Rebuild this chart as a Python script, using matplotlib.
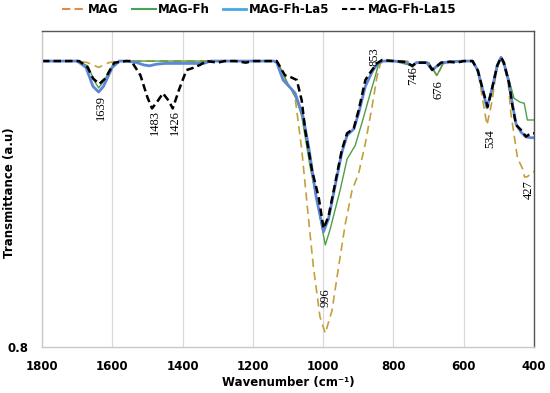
import matplotlib
matplotlib.use("Agg")
import matplotlib.pyplot as plt
from matplotlib.lines import Line2D

# ---------------- data ----------------
series_names = ["MAG", "MAG-Fh", "MAG-Fh-La5", "MAG-Fh-La15"]

mag_wn = [1800, 1700, 1670, 1639, 1610, 1580, 1200, 1132, 1104, 1090, 1080, 1061, 1047, 1028,
          1009, 994, 975, 956, 937, 918, 899, 880, 861, 847, 837, 825, 800, 760, 746, 735,
          700, 676, 660, 640, 600, 575, 560, 545, 534, 520, 505, 494, 486, 475, 466, 447,
          433, 427, 419, 404, 400]
mag_t = [0.981, 0.981, 0.980, 0.977, 0.980, 0.981, 0.981, 0.981, 0.968, 0.963, 0.958, 0.925,
         0.893, 0.851, 0.819, 0.8087, 0.823, 0.851, 0.878, 0.899, 0.910, 0.929, 0.952, 0.971,
         0.9796, 0.981, 0.981, 0.981, 0.977, 0.980, 0.980, 0.9715, 0.979, 0.981, 0.981, 0.981,
         0.975, 0.955, 0.9405, 0.955, 0.978, 0.983, 0.978, 0.971, 0.948, 0.9195, 0.913, 0.9076,
         0.9078, 0.911, 0.911]

fh_wn = [1800, 1700, 1670, 1650, 1639, 1625, 1600, 1580, 1140, 1130, 1115, 1104, 1090, 1075,
         1061, 1037, 1013, 994, 980, 951, 932, 909, 889, 866, 851, 842, 830, 800, 746, 735,
         700, 676, 660, 640, 575, 560, 534, 515, 500, 494, 485, 471, 457, 440, 428, 419, 400]
fh_t = [0.981, 0.981, 0.978, 0.968, 0.964, 0.968, 0.978, 0.981, 0.981, 0.980, 0.974, 0.968,
        0.963, 0.956, 0.946, 0.914, 0.887, 0.8646, 0.8747, 0.900, 0.919, 0.9275, 0.9424,
        0.9606, 0.972, 0.9796, 0.981, 0.981, 0.978, 0.980, 0.980, 0.972, 0.979, 0.981, 0.981,
        0.975, 0.951, 0.968, 0.980, 0.983, 0.979, 0.969, 0.9574, 0.955, 0.9543, 0.9437, 0.9437]

la5_wn = [1800, 1700, 1675, 1655, 1639, 1625, 1600, 1580, 1560, 1530, 1510, 1494, 1475, 1450,
          1340, 1320, 1140, 1132, 1114, 1080, 1057, 1040, 1020, 999, 985, 966, 947, 932, 913,
          899, 880, 861, 847, 832, 800, 770, 746, 735, 705, 690, 675, 660, 640, 600, 575, 560,
          545, 534, 520, 505, 494, 486, 471, 461, 451, 437, 423, 410, 400]
la5_t = [0.981, 0.981, 0.977, 0.965, 0.9614, 0.965, 0.977, 0.981, 0.981, 0.980, 0.9785, 0.978,
         0.979, 0.9795, 0.9795, 0.981, 0.981, 0.980, 0.969, 0.9608, 0.9457, 0.925, 0.895, 0.873,
         0.881, 0.902, 0.923, 0.934, 0.938, 0.948, 0.965, 0.974, 0.979, 0.981, 0.981, 0.9805,
         0.978, 0.980, 0.980, 0.9753, 0.978, 0.980, 0.9805, 0.981, 0.981, 0.975, 0.962, 0.9514,
         0.963, 0.978, 0.9834, 0.980, 0.967, 0.953, 0.941, 0.936, 0.933, 0.9325, 0.9325]

la15_wn = [1800, 1694, 1670, 1655, 1637, 1620, 1600, 1594, 1560, 1546, 1520, 1500, 1487, 1470,
           1456, 1440, 1428, 1410, 1389, 1371, 1351, 1332, 1300, 1280, 1250, 1220, 1200, 1140,
           1132, 1109, 1094, 1075, 1061, 1051, 1032, 1013, 999, 985, 966, 947, 932, 913, 899,
           880, 871, 861, 847, 832, 800, 770, 755, 746, 735, 710, 700, 690, 680, 665, 640, 620,
           600, 575, 560, 545, 532, 520, 505, 494, 486, 471, 461, 451, 437, 423, 409, 400]
la15_t = [0.981, 0.981, 0.977, 0.970, 0.9665, 0.970, 0.978, 0.980, 0.981, 0.981, 0.972, 0.958,
          0.951, 0.956, 0.9606, 0.956, 0.951, 0.963, 0.9753, 0.9766, 0.9785, 0.981, 0.980,
          0.981, 0.981, 0.980, 0.981, 0.981, 0.981, 0.972, 0.971, 0.969, 0.956, 0.937, 0.912,
          0.895, 0.8751, 0.8825, 0.9036, 0.9247, 0.9353, 0.9384, 0.950, 0.969, 0.9722, 0.9753,
          0.9796, 0.9817, 0.981, 0.9805, 0.979, 0.978, 0.980, 0.980, 0.979, 0.9755, 0.977,
          0.980, 0.9805, 0.980, 0.981, 0.981, 0.975, 0.962, 0.952, 0.963, 0.978, 0.9834, 0.980,
          0.9669, 0.9521, 0.9405, 0.9374, 0.9332, 0.9353, 0.9353]

peak_labels = ["1639", "1483", "1426", "996", "853", "746", "676", "534", "427"]
peak_x = [1632, 1480, 1421, 994, 854, 744, 671, 526, 414]
peak_y = [0.9513, 0.9424, 0.9424, 0.831, 0.9836, 0.972, 0.9627, 0.9317, 0.8994]

x_ticks = [1800, 1600, 1400, 1200, 1000, 800, 600, 400]

# ---------------- plot ----------------
fig = plt.figure(figsize=(5.5, 3.93), dpi=100)
ax = fig.add_axes([0.0764, 0.117, 0.8946, 0.804])

c_mag = "#C4A03C"
c_fh = "#4E9E48"
c_la5 = "#5E86D6"
c_la15 = "#000000"

ax.plot(mag_wn, mag_t, color=c_mag, lw=1.2, ls=(0, (5, 3)))
ax.plot(fh_wn, fh_t, color=c_fh, lw=1.0)
ax.plot(la5_wn, la5_t, color=c_la5, lw=2.0)
ax.plot(la15_wn, la15_t, color=c_la15, lw=1.8, ls=(0, (3, 1.6)))

for lab, xx, yy in zip(peak_labels, peak_x, peak_y):
    ax.text(xx, yy, lab, rotation=90, ha="center", va="center",
            family="Liberation Serif", fontsize=9, color="black")

ax.set_xlim(1800, 400)
ax.set_ylim(0.8, 1.0)
ax.set_xticks(x_ticks)
ax.set_yticks([0.8])
ax.set_yticklabels(["0.8"])
ax.tick_params(axis="x", length=0, labelsize=8.5, pad=9)
ax.tick_params(axis="y", length=0, labelsize=8.5, pad=10)
for lbl in ax.get_xticklabels() + ax.get_yticklabels():
    lbl.set_fontweight("bold")
ax.grid(axis="x", color="#d9d9d9", lw=0.9)
ax.set_axisbelow(True)

ax.spines["left"].set_color("#c8c8c8")
ax.spines["bottom"].set_color("#c8c8c8")
ax.spines["top"].set_color("#555555")
ax.spines["right"].set_color("#555555")
for s in ax.spines.values():
    s.set_linewidth(1.0)

ax.set_xlabel("Wavenumber (cm⁻¹)", fontsize=8.5, fontweight="bold")
ax.set_ylabel("Transmittance (a.u)", fontsize=8.5, fontweight="bold")
ax.xaxis.set_label_coords(0.5, -0.093)
ax.yaxis.set_label_coords(-0.052, 0.49)

handles = [
    Line2D([], [], color="#E58A45", lw=1.5, ls=(0, (4, 2))),
    Line2D([], [], color="#3EA85A", lw=1.5),
    Line2D([], [], color="#46A8E2", lw=2.0),
    Line2D([], [], color="black", lw=1.5, ls=(0, (2.5, 1.5))),
]
leg = fig.legend(handles, series_names, loc="center", bbox_to_anchor=(0.472, 0.975), ncol=4,
                 frameon=False, prop={"weight": "bold", "size": 8.5}, handlelength=2.0,
                 handletextpad=0.2, columnspacing=1.1)

fig.savefig("out.png", dpi=100)
